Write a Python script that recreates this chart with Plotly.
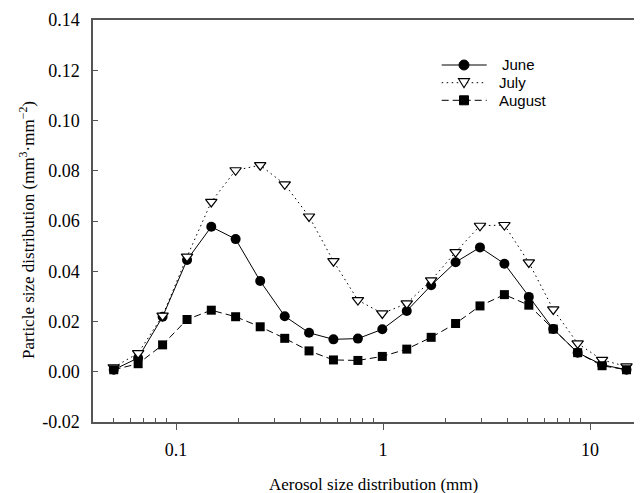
import plotly.graph_objects as go
import math

# Aerosol size bins (radius, log-spaced)
size_bins = [0.05, 0.0656, 0.0861, 0.113, 0.148, 0.194, 0.255, 0.335, 0.439, 0.576, 0.756,
             0.992, 1.302, 1.708, 2.241, 2.940, 3.857, 5.061, 6.641, 8.713, 11.432, 15.0]

june = [0.0008, 0.0055, 0.0219, 0.0445, 0.0577, 0.0528, 0.0361, 0.0221, 0.0155, 0.0129, 0.0132,
        0.0169, 0.0242, 0.0344, 0.0436, 0.0495, 0.0430, 0.0298, 0.0170, 0.0076, 0.0028, 0.0008]
july = [0.0018, 0.0074, 0.0223, 0.0458, 0.0676, 0.0802, 0.0822, 0.0746, 0.0618, 0.0440, 0.0285,
        0.0232, 0.0272, 0.0364, 0.0476, 0.0581, 0.0584, 0.0435, 0.0248, 0.0113, 0.0047, 0.0021]
august = [0.0008, 0.0032, 0.0107, 0.0208, 0.0245, 0.0219, 0.0179, 0.0133, 0.0083, 0.0047, 0.0045,
          0.0061, 0.0090, 0.0137, 0.0192, 0.0262, 0.0307, 0.0265, 0.0170, 0.0076, 0.0024, 0.0008]

series_names = ["June", "July", "August"]

x_major_ticks = [0.1, 1, 10]
x_major_labels = ["0.1", "1", "10"]
x_minor_ticks = [0.05, 0.06, 0.07, 0.08, 0.09,
                 0.2, 0.3, 0.4, 0.5, 0.6, 0.7, 0.8, 0.9,
                 2, 3, 4, 5, 6, 7, 8, 9]
y_ticks = [-0.02, 0.00, 0.02, 0.04, 0.06, 0.08, 0.10, 0.12, 0.14]
y_labels = ["-0.02", "0.00", "0.02", "0.04", "0.06", "0.08", "0.10", "0.12", "0.14"]

serif = "Liberation Serif"
sans = "Liberation Sans"
axis_col = "#555555"

# page body has an 8px default margin; size the figure to fit the 642x493 window
OFF = 8
W, H = 642 - OFF, 493 - OFF
ML, MR, MT, MB = 93 - OFF, 0, 20 - OFF, 493 - 422
PW, PH = W - ML - MR, H - MT - MB


def px(xp):  # page pixel -> paper x
    return (xp - OFF - ML) / PW


def py(yp):  # page pixel -> paper y
    return (OFF + MT + PH - yp) / PH


june_dash = "solid"
july_dash = "1.5px,3.5px"
aug_dash = "7px,4px"

fig = go.Figure()
fig.add_trace(go.Scatter(
    x=size_bins, y=june, name=series_names[0], mode="lines+markers",
    line=dict(color="black", width=1, dash=june_dash),
    marker=dict(symbol="circle", size=10, color="black")))
fig.add_trace(go.Scatter(
    x=size_bins, y=july, name=series_names[1], mode="lines+markers",
    line=dict(color="black", width=1, dash=july_dash),
    marker=dict(symbol="triangle-down", size=10, color="white",
                line=dict(color="black", width=1.2))))
fig.add_trace(go.Scatter(
    x=size_bins, y=august, name=series_names[2], mode="lines+markers",
    line=dict(color="black", width=1, dash=aug_dash),
    marker=dict(symbol="square", size=9, color="black")))

# manual legend (lines, symbols, labels)
shapes = []
annotations = []
rows_y = [65, 82.7, 100.3]
dashes = [june_dash, july_dash, aug_dash]
text_x = [500, 496.5, 496.5]
for i, name in enumerate(series_names):
    yy = py(rows_y[i])
    shapes.append(dict(type="line", xref="paper", yref="paper",
                       x0=px(441.7), x1=px(486.7), y0=yy, y1=yy,
                       line=dict(color="black", width=1, dash=dashes[i])))
    annotations.append(dict(text=name, xref="paper", yref="paper",
                            x=px(text_x[i]), y=yy, xanchor="left", yanchor="middle",
                            showarrow=False,
                            font=dict(family=sans, size=15, color="black")))
cx = px(464)
shapes.append(dict(type="circle", xref="paper", yref="paper",
                   xsizemode="pixel", ysizemode="pixel",
                   xanchor=cx, yanchor=py(rows_y[0]),
                   x0=-5, x1=5, y0=-5, y1=5,
                   fillcolor="black", line=dict(color="black", width=1)))
shapes.append(dict(type="path", xref="paper", yref="paper",
                   xsizemode="pixel", ysizemode="pixel",
                   xanchor=cx, yanchor=py(rows_y[1]),
                   path="M -5.5 4 L 5.5 4 L 0 -5 Z",
                   fillcolor="white", line=dict(color="black", width=1.2)))
shapes.append(dict(type="rect", xref="paper", yref="paper",
                   xsizemode="pixel", ysizemode="pixel",
                   xanchor=cx, yanchor=py(rows_y[2]),
                   x0=-4.5, x1=4.5, y0=-4.5, y1=4.5,
                   fillcolor="black", line=dict(color="black", width=1)))

annotations += [
    dict(text="Aerosol size distribution (mm)", xref="paper", yref="paper",
         x=px(373), y=0, xanchor="center", yanchor="middle", yshift=-62,
         showarrow=False, font=dict(family=serif, size=17, color="black")),
    dict(text="Particle size distribution (mm<sup>3</sup>\u00b7mm<sup>\u22122</sup>)",
         xref="paper", yref="paper", x=0, y=py(230), xshift=27 - 93,
         xanchor="center", yanchor="middle", textangle=-90,
         showarrow=False, font=dict(family=serif, size=17, color="black")),
]

fig.update_layout(
    width=W, height=H, autosize=False,
    margin=dict(l=ML, r=MR, t=MT, b=MB, pad=0),
    paper_bgcolor="white", plot_bgcolor="white",
    showlegend=False,
    xaxis=dict(type="log", range=[math.log10(0.0397), 1.251], automargin=False,
               tickmode="array", tickvals=x_major_ticks, ticktext=x_major_labels,
               ticks="outside", ticklen=6, tickcolor=axis_col, tickwidth=1,
               showline=True, linecolor=axis_col, linewidth=1.5, mirror=True,
               showgrid=False, zeroline=False, ticklabelstandoff=5,
               tickfont=dict(family=serif, size=18, color="black"),
               minor=dict(tickmode="array", tickvals=x_minor_ticks, ticks="inside",
                          ticklen=4, tickcolor=axis_col, tickwidth=1, showgrid=False)),
    yaxis=dict(range=[-0.02, 0.14], tickmode="array", tickvals=y_ticks, ticktext=y_labels,
               automargin=False, ticks="inside", ticklen=5, tickcolor=axis_col,
               showline=True, linecolor=axis_col, linewidth=1.5,
               showgrid=False, zeroline=False, ticklabelstandoff=8,
               tickfont=dict(family=serif, size=18, color="black")),
    shapes=shapes,
    annotations=annotations,
)

fig.write_html("out.html")
